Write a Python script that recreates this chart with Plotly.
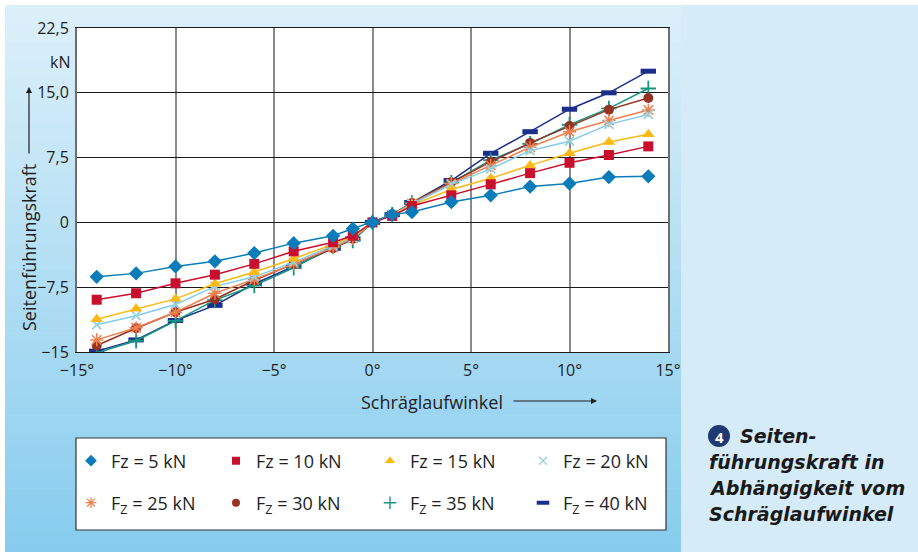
import plotly.graph_objects as go

# ---------------- data ----------------
angles = [-14, -12, -10, -8, -6, -4, -2, -1, 0, 1, 2, 4, 6, 8, 10, 12, 14]

fz5 = [-6.3, -5.9, -5.1, -4.5, -3.55, -2.4, -1.55, -0.73, 0, 0.9, 1.2, 2.35, 3.13, 4.15, 4.5, 5.25, 5.33]
fz10 = [-8.95, -8.2, -7.05, -6.05, -4.8, -3.35, -2.3, -1.55, 0, 0.75, 1.9, 3.13, 4.4, 5.7, 6.9, 7.8, 8.8]
fz15 = [-11.2, -10.0, -8.85, -7.1, -5.75, -4.2, -2.55, -1.7, 0, 0.85, 2.0, 3.8, 5.1, 6.6, 8.0, 9.3, 10.2]
fz20 = [-11.85, -10.8, -9.5, -7.4, -6.3, -4.6, -2.7, -1.8, 0, 0.9, 2.1, 4.4, 6.2, 8.3, 9.4, 11.35, 12.5]
fz25 = [-13.6, -12.2, -10.4, -8.2, -6.6, -4.8, -2.9, -1.85, 0, 0.9, 2.2, 4.5, 6.6, 8.7, 10.5, 11.8, 13.0]
fz30 = [-14.25, -12.25, -10.4, -8.9, -6.7, -4.8, -3.0, -1.9, 0, 0.9, 2.25, 4.65, 7.0, 9.2, 11.15, 13.05, 14.4]
fz35 = [-15.1, -13.7, -11.4, -9.0, -7.3, -5.25, -2.8, -2.1, 0, 0.9, 2.25, 4.6, 7.2, 9.1, 11.3, 13.2, 15.5]
fz40 = [-14.9, -13.6, -11.35, -9.6, -7.1, -5.1, -3.0, -1.9, 0, 0.9, 2.3, 4.85, 8.0, 10.5, 13.1, 15.0, 17.5]

series_names = ["Fz = 5 kN", "Fz = 10 kN", "Fz = 15 kN", "Fz = 20 kN",
                "F<sub>Z</sub> = 25 kN", "F<sub>Z</sub> = 30 kN",
                "F<sub>Z</sub> = 35 kN", "F<sub>Z</sub> = 40 kN"]
series_values = [fz5, fz10, fz15, fz20, fz25, fz30, fz35, fz40]

x_tickvals = [-15, -10, -5, 0, 5, 10, 15]
x_ticktext = ["\u221215\u00b0", "\u221210\u00b0", "\u22125\u00b0", "0\u00b0", "5\u00b0", "10\u00b0", "15\u00b0"]
y_tickvals = [-15, -7.5, 0, 7.5, 15, 22.5]
y_ticktext = ["\u221215", "\u22127,5", "0", "7,5", "15,0", "22,5"]

# ---------------- styles ----------------
colors = ["#0b7cba", "#c8102e", "#fdb913", "#84cdea",
          "#f07f4f", "#953224", "#15977f", "#1c2e8c"]
marker_colors = ["#0b7cba", "#c8102e", "#fdb913", "#95d3dd",
                 "#f07f4f", "#953224", "#15977f", "#1c2e8c"]
symbols = ["diamond", "square", "triangle-up", "x-thin",
           "asterisk-open", "circle", "cross-thin", "line-ew"]
sizes = [11, 10, 11, 9, 11, 10, 11, 11]
mline = [0, 0, 0, 1.8, 1.5, 0, 1.8, 5]
leg_sizes = [9, 8, 9, 8, 9, 8, 9, 9]
leg_mline = [0, 0, 0, 1.3, 1.2, 0, 1.4, 4]
# legend text start (px) per column, and row centres (px)
leg_text_x = [111, 256, 410, 563]
leg_row_y = [461, 503]

W, H = 918, 552
L, R, T, B = 77, 250, 28, 200
PW, PH = W - L - R, H - T - B


def PX(px):
    return (px - L) / PW


def PY(py):
    return (H - B - py) / PH


FONT = "Open Sans"
CAPFONT = "DejaVu Sans"
TXT = "#1e1e1e"

fig = go.Figure()

# data traces (largest load first so small-load markers sit on top)
for i in reversed(range(len(series_values))):
    fig.add_trace(go.Scatter(
        x=angles, y=series_values[i], mode="lines+markers",
        line=dict(color=colors[i], width=1.5),
        marker=dict(symbol=symbols[i], size=sizes[i], color=marker_colors[i],
                    line=dict(width=mline[i], color=marker_colors[i])),
        showlegend=False, hoverinfo="x+y", name=series_names[i]))

# legend entries (marker only), one legend per entry for exact placement
legend_layouts = {}
for i in range(len(series_values)):
    key = "legend" if i == 0 else "legend%d" % (i + 1)
    fig.add_trace(go.Scatter(
        x=[None], y=[None], mode="markers", name=series_names[i],
        marker=dict(symbol=symbols[i], size=leg_sizes[i], color=marker_colors[i],
                    line=dict(width=leg_mline[i], color=marker_colors[i])),
        legend=key))
    col, row = i % 4, i // 4
    legend_layouts[key] = dict(
        x=PX(leg_text_x[col] - 40), y=PY(leg_row_y[row]),
        orientation="h", xanchor="left", yanchor="middle",
        bgcolor="rgba(0,0,0,0)", borderwidth=0,
        font=dict(family=FONT, size=18, color=TXT),
        itemclick=False, itemdoubleclick=False)

# ---------------- background shapes ----------------
shapes = []
n = 60
top_c = (0xdd, 0xf0, 0xfa)
bot_c = (0x86, 0xcc, 0xee)
y0, y1 = 5, 552
for k in range(n):
    t = (k + 0.5) / n
    c = tuple(int(round(top_c[j] + (bot_c[j] - top_c[j]) * t)) for j in range(3))
    ya = y0 + (y1 - y0) * k / n
    yb = y0 + (y1 - y0) * (k + 1) / n + 0.6
    shapes.append(dict(type="rect", xref="paper", yref="paper", layer="below",
                       x0=PX(5), x1=PX(681), y0=PY(ya), y1=PY(yb),
                       fillcolor="rgb(%d,%d,%d)" % c, line=dict(width=0)))
shapes.append(dict(type="rect", xref="paper", yref="paper", layer="below",
                   x0=PX(681), x1=PX(918), y0=PY(5), y1=PY(552),
                   fillcolor="#d5ebf8", line=dict(width=0)))
# plot area white
shapes.append(dict(type="rect", xref="paper", yref="paper", layer="below",
                   x0=0, x1=1, y0=0, y1=1, fillcolor="white", line=dict(width=0)))
# legend box
shapes.append(dict(type="rect", xref="paper", yref="paper", layer="below",
                   x0=PX(76), x1=PX(666), y0=PY(438), y1=PY(530),
                   fillcolor="white", line=dict(color="#333333", width=1.2)))
# caption circle
shapes.append(dict(type="circle", xref="paper", yref="paper", layer="above",
                   x0=PX(708), x1=PX(730), y0=PY(425), y1=PY(447),
                   fillcolor="#1f3a70", line=dict(width=0)))

annotations = []
# y unit
annotations.append(dict(x=PX(72), y=PY(62), xref="paper", yref="paper", text="kN",
                        showarrow=False, xanchor="right", yanchor="middle",
                        font=dict(family=FONT, size=16, color=TXT)))
# y title
annotations.append(dict(x=PX(29), y=PY(248), xref="paper", yref="paper",
                        text="Seitenführungskraft", textangle=-90, showarrow=False,
                        xanchor="center", yanchor="middle",
                        font=dict(family=FONT, size=18, color=TXT)))
# y arrow
annotations.append(dict(x=PX(29), y=PY(87), xref="paper", yref="paper", text="",
                        showarrow=True, ax=0, ay=68, arrowhead=2, arrowsize=1,
                        arrowwidth=1.2, arrowcolor=TXT))
# x title
annotations.append(dict(x=PX(432), y=PY(402), xref="paper", yref="paper",
                        text="Schräglaufwinkel", showarrow=False,
                        xanchor="center", yanchor="middle",
                        font=dict(family=FONT, size=18, color=TXT)))
# x arrow
annotations.append(dict(x=PX(597), y=PY(401), xref="paper", yref="paper", text="",
                        showarrow=True, ax=-85, ay=0, arrowhead=2, arrowsize=1,
                        arrowwidth=1.2, arrowcolor=TXT))
# caption
annotations.append(dict(x=PX(719), y=PY(436.5), xref="paper", yref="paper",
                        text="<b>4</b>", showarrow=False, xanchor="center",
                        yanchor="middle", font=dict(family=FONT, size=15, color="white")))
cap_lines = [(738, 436, "Seiten-"), (707, 462, "führungskraft in"),
             (707, 488, "Abhängigkeit vom"), (707, 514, "Schräglaufwinkel")]
for cx, cy, txt in cap_lines:
    annotations.append(dict(x=PX(cx), y=PY(cy), xref="paper", yref="paper",
                            text="<b><i>%s</i></b>" % txt, showarrow=False,
                            xanchor="left", yanchor="middle",
                            font=dict(family=CAPFONT, size=19, color="#1a1a1a")))

fig.update_layout(
    width=W, height=H,
    margin=dict(l=L, r=R, t=T, b=B, pad=0),
    paper_bgcolor="white", plot_bgcolor="white",
    shapes=shapes, annotations=annotations,
    xaxis=dict(range=[-15, 15], tickvals=x_tickvals, ticktext=x_ticktext,
               showgrid=True, gridcolor="#8a8a8a", gridwidth=2,
               zeroline=False, showline=True, linecolor="#1a1a1a", linewidth=1,
               mirror=True, ticks="", ticklabelstandoff=4,
               tickfont=dict(family=FONT, size=16, color=TXT)),
    yaxis=dict(range=[-15, 22.5], tickvals=y_tickvals, ticktext=y_ticktext,
               showgrid=True, gridcolor="#1a1a1a", gridwidth=1,
               zeroline=False, showline=True, linecolor="#6e6e6e", linewidth=2,
               mirror=True, ticks="", ticklabelstandoff=3,
               tickfont=dict(family=FONT, size=16, color=TXT)),
)
fig.update_layout(**legend_layouts)

fig.write_html("out.html", config={"displayModeBar": False},
               post_script="document.body.style.margin='0';document.body.style.padding='0';")
